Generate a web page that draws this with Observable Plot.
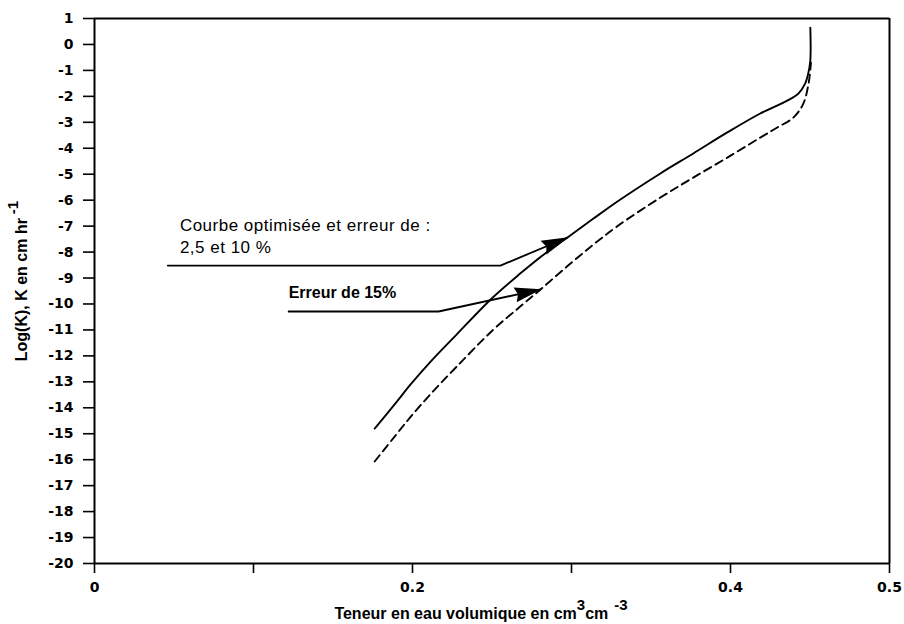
<!DOCTYPE html>
<html>
<head>
<meta charset="utf-8">
<script src="https://cdn.jsdelivr.net/npm/d3@7"></script>
<script src="https://cdn.jsdelivr.net/npm/@observablehq/plot@0.6"></script>
<style>
  body { margin: 0; background: #fff; }
  #chart svg { display: block; }
</style>
</head>
<body>
<div id="chart"></div>
<script>
// Hydraulic conductivity curves: volumetric water content (cm3/cm3) vs log10(K), K in cm/hr

// Optimised curve (errors of 2.5 and 10 %)
const optTheta = [0.1762, 0.1894, 0.1988, 0.2114, 0.2277, 0.2503, 0.2679, 0.2824, 0.2975, 0.3138, 0.3289, 0.3559, 0.3766, 0.3980, 0.4187, 0.4345, 0.4426, 0.4470, 0.4489, 0.4502, 0.4502];
const optLogK  = [-14.80, -13.82, -13.10, -12.22, -11.18, -9.76, -8.82, -8.10, -7.44, -6.71, -6.05, -4.97, -4.20, -3.39, -2.66, -2.20, -1.90, -1.50, -1.12, -0.62, 0.65];

// Curve for an error of 15 %
const err15Theta = [0.1762, 0.1894, 0.1988, 0.2114, 0.2277, 0.2503, 0.2679, 0.2805, 0.2975, 0.3138, 0.3289, 0.3559, 0.3766, 0.3980, 0.4187, 0.4294, 0.4395, 0.4458, 0.4492, 0.4506];
const err15LogK  = [-16.07, -15.06, -14.35, -13.47, -12.42, -11.02, -10.09, -9.44, -8.54, -7.71, -7.00, -5.90, -5.13, -4.36, -3.59, -3.20, -2.82, -2.28, -1.47, -0.70];

// Axis ticks
const yTicks = d3.range(-20, 2);
const xTicks = [0, 0.1, 0.2, 0.3, 0.4, 0.5];
const xTickLabels = [0, 0.2, 0.4, 0.5];

// Annotation labels and their leader lines (in data units)
const noteOptLines = ["Courbe optimisée et erreur de :", "2,5 et 10 %"];
const noteOptX = 0.0537;
const noteOptY = [-6.98, -7.82];
const leaderOptX = [0.0461, 0.2553, 0.2975];
const leaderOptY = [-8.52, -8.52, -7.44];

const note15Text = "Erreur de 15%";
const note15X = 0.1221;
const note15Y = -9.56;
const leader15X = [0.1221, 0.2164, 0.2805];
const leader15Y = [-10.29, -10.29, -9.44];

const xTitle = ["Teneur en eau volumique en cm", "3", "cm", "-3"];
const yTitle = ["Log(K), K en cm hr", "-1"];

// ---- layout
const W = 904, H = 624;
const mL = 94, mR = 15, mT = 18, mB = 61;
const xDomain = [0, 0.5], yDomain = [-20, 1];

const toRows = (xs, ys) => xs.map((x, i) => ({x, y: ys[i]}));
const optData = toRows(optTheta, optLogK);
const err15Data = toRows(err15Theta, err15LogK);
const leaderOpt = toRows(leaderOptX, leaderOptY);
const leader15 = toRows(leader15X, leader15Y);

// screen-space scales mirroring the plot's, used only to orient the arrowheads
const sx = d3.scaleLinear(xDomain, [mL, W - mR]);
const sy = d3.scaleLinear(yDomain, [H - mB, mT]);
function headOf(path) {
  const a = path[path.length - 2], b = path[path.length - 1];
  const ang = Math.atan2(sy(b.y) - sy(a.y), sx(b.x) - sx(a.x)) * 180 / Math.PI;
  return {x: b.x, y: b.y, angle: ang};
}
const heads = [headOf(leaderOpt), headOf(leader15)];

// filled arrowhead, tip at the origin pointing along +x
const arrowhead = {
  draw(context) {
    context.moveTo(1, 0);
    context.lineTo(-26, -7.5);
    context.lineTo(-23, 0);
    context.lineTo(-26, 7.5);
    context.closePath();
  }
};

const tickFont = "DejaVu Sans, Liberation Sans, sans-serif";
const titleFont = "'Liberation Sans Narrow', 'Arial Narrow', 'Liberation Sans', Arial, sans-serif";

const plot = Plot.plot({
  width: W,
  height: H,
  marginLeft: mL,
  marginRight: mR,
  marginTop: mT,
  marginBottom: mB,
  style: {background: "#fff", color: "#000", overflow: "visible"},
  x: {domain: xDomain},
  y: {domain: yDomain},
  marks: [
    Plot.axisY({
      ticks: yTicks, tickSize: 11, tickPadding: 10, label: null,
      tickFormat: d => String(d), stroke: "#000", strokeWidth: 1.6, strokeOpacity: 1,
      fill: "#000", fontFamily: tickFont, fontWeight: "bold", fontSize: 14
    }),
    Plot.axisX({
      ticks: xTicks, tickSize: 10, tickPadding: 9, label: null,
      tickFormat: d => xTickLabels.includes(d) ? String(d) : "",
      stroke: "#000", strokeWidth: 1.6, strokeOpacity: 1,
      fill: "#000", fontFamily: tickFont, fontWeight: "bold", fontSize: 14
    }),
    Plot.ruleX(xDomain, {stroke: "#000", strokeWidth: 2}),
    Plot.ruleY(yDomain, {stroke: "#000", strokeWidth: 2}),
    Plot.line(optData, {x: "x", y: "y", stroke: "#000", strokeWidth: 1.9, curve: "catmull-rom"}),
    Plot.line(err15Data, {x: "x", y: "y", stroke: "#000", strokeWidth: 1.9, strokeDasharray: "8,5", curve: "catmull-rom"}),
    Plot.line(leaderOpt, {x: "x", y: "y", stroke: "#000", strokeWidth: 1.8}),
    Plot.line(leader15, {x: "x", y: "y", stroke: "#000", strokeWidth: 1.8}),
    Plot.dot(heads, {x: "x", y: "y", rotate: "angle", symbol: arrowhead, fill: "#000", stroke: "none"}),
    Plot.text(noteOptLines, {
      x: () => noteOptX, y: (d, i) => noteOptY[i], text: d => d,
      textAnchor: "start", fontFamily: "'Liberation Sans', Arial, sans-serif", fontSize: 17, fill: "#000"
    }),
    Plot.text([note15Text], {
      x: () => note15X, y: () => note15Y, text: d => d,
      textAnchor: "start", fontFamily: titleFont, fontWeight: "bold", fontSize: 16, fill: "#000"
    })
  ]
});

document.getElementById("chart").appendChild(plot);

// the annotation labels are slightly letter-spaced
d3.select(plot).selectAll("text").filter(function () {
  return noteOptLines.includes(this.textContent);
}).attr("letter-spacing", "0.5px");

// axis titles with raised exponents
const svg = d3.select(plot);
const xt = svg.append("text")
  .attr("x", 481).attr("y", 619)
  .attr("text-anchor", "middle")
  .attr("font-family", titleFont).attr("font-weight", "bold").attr("font-size", 16)
  .attr("fill", "#000");
xt.append("tspan").text(xTitle[0]);
xt.append("tspan").attr("dy", -9).attr("font-size", 15).text(xTitle[1]);
xt.append("tspan").attr("dy", 9).text(xTitle[2]);
xt.append("tspan").attr("dy", -9).attr("dx", 6).attr("font-size", 15).text(xTitle[3]);

const yt = svg.append("text")
  .attr("transform", "translate(27,281) rotate(-90)")
  .attr("text-anchor", "middle")
  .attr("font-family", titleFont).attr("font-weight", "bold").attr("font-size", 16)
  .attr("fill", "#000");
yt.append("tspan").text(yTitle[0]);
yt.append("tspan").attr("dy", -9).attr("dx", 4).attr("font-size", 15).text(yTitle[1]);
</script>
</body>
</html>
